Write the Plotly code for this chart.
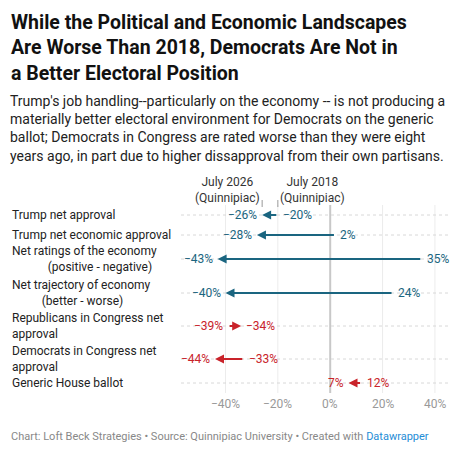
import plotly.graph_objects as go

categories = [
    "Trump net approval",
    "Trump net economic approval",
    "Net ratings of the economy<br>            (positive - negative)",
    "Net trajectory of economy<br>          (better - worse)",
    "Republicans in Congress net<br>approval",
    "Democrats in Congress net<br>approval",
    "Generic House ballot",
]
july_2026 = [-26, -28, -43, -40, -34, -44, 7]
july_2018 = [-20, 2, 35, 24, -39, -33, 12]
row_color = ["#1a6580"] * 4 + ["#c9232a"] * 3
tick_vals = [-40, -20, 0, 20, 40]
tick_text = ["−40%", "−20%", "0%", "20%", "40%"]
# vertical row positions (pixel-like, top to bottom)
row_y = [215, 235, 259, 293, 326, 359, 383]

X0, X1 = -57, 45
OFF = 8  # page body margin
PLOT_L, PLOT_W = 181, 267


def px(x):
    # screen pixel x -> paper coordinate
    return (x - PLOT_L) / PLOT_W


def pct(v):
    return f"{v}%".replace("-", "−")


fig = go.Figure()

for v, t in zip(tick_vals, tick_text):
    fig.add_shape(type="line", x0=v, x1=v, y0=205, y1=393, xref="x", yref="y",
                  line=dict(color="#c8c8c8" if v == 0 else "#ececec", width=2 if v == 0 else 1),
                  layer="below")
    fig.add_annotation(x=v, y=404, xref="x", yref="y", text=t,
                       showarrow=False, font=dict(color="#999", size=12))

for y in row_y:
    fig.add_shape(type="line", x0=X0, x1=X1, y0=y, y1=y, xref="x", yref="y",
                  line=dict(color="#d8d8d8", width=1, dash="dot"), layer="below")

for i, cat in enumerate(categories):
    a, b = july_2026[i], july_2018[i]
    y = row_y[i]
    c = row_color[i]
    fig.add_annotation(x=a, y=y, ax=b, ay=y, xref="x", yref="y", axref="x", ayref="y",
                       text="", showarrow=True, arrowhead=2, arrowsize=0.9, arrowwidth=2,
                       arrowcolor=c, standoff=0)
    left_side = a < b
    fig.add_annotation(x=a, y=y, xref="x", yref="y", text=pct(a),
                       showarrow=False, xanchor="right" if left_side else "left",
                       xshift=-3 if left_side else 3, font=dict(color=c, size=12))
    fig.add_annotation(x=b, y=y, xref="x", yref="y", text=pct(b),
                       showarrow=False, xanchor="left" if left_side else "right",
                       xshift=3 if left_side else -3, font=dict(color=c, size=12))
    fig.add_annotation(x=px(10), y=y, xref="paper", yref="y", text=cat, showarrow=False,
                       xanchor="left", align="left", font=dict(color="#222", size=12))

# column headers
fig.add_annotation(x=july_2026[0], y=207, xref="x", yref="y", text="July 2026<br>(Quinnipiac)",
                   showarrow=False, xanchor="right", yanchor="bottom", align="center",
                   font=dict(color="#333", size=12))
fig.add_annotation(x=july_2018[0], y=207, xref="x", yref="y", text="July 2018<br>(Quinnipiac)",
                   showarrow=False, xanchor="left", yanchor="bottom", align="center",
                   font=dict(color="#333", size=12))
for v in (july_2026[0], july_2018[0]):
    fig.add_shape(type="line", x0=v, x1=v, y0=200, y1=207, xref="x", yref="y",
                  line=dict(color="#999", width=1))

fig.add_annotation(x=px(9), y=9, xref="paper", yref="y", xanchor="left", yanchor="top",
                   showarrow=False, align="left",
                   text="<b>While the Political and Economic Landscapes<br>Are Worse Than 2018, Democrats Are Not in<br>a Better Electoral Position</b>",
                   font=dict(size=19.5, color="#111"))
fig.add_annotation(x=px(8), y=91, xref="paper", yref="y", xanchor="left", yanchor="top",
                   showarrow=False, align="left",
                   text="Trump's job handling--particularly on the economy -- is not producing a<br>materially better electoral environment for Democrats on the generic<br>ballot; Democrats in Congress are rated worse than they were eight<br>years ago, in part due to higher dissapproval from their own partisans.",
                   font=dict(size=14, color="#222"))
fig.add_annotation(x=px(9), y=436, xref="paper", yref="y", xanchor="left", yanchor="middle",
                   showarrow=False, align="left",
                   text="Chart: Loft Beck Strategies • Source: Quinnipiac University • Created with <span style='color:#1f8dd6'>Datawrapper</span>",
                   font=dict(size=11, color="#888"))

fig.update_layout(
    width=470, height=454,
    margin=dict(l=PLOT_L - OFF, r=470 - PLOT_L - PLOT_W + OFF, t=0, b=0, pad=0),
    paper_bgcolor="white", plot_bgcolor="white",
    font=dict(family="Roboto"),
    showlegend=False,
    xaxis=dict(range=[X0, X1], visible=False, fixedrange=True),
    yaxis=dict(range=[454 + OFF, OFF], visible=False, fixedrange=True),
)

fig.write_html("out.html")
